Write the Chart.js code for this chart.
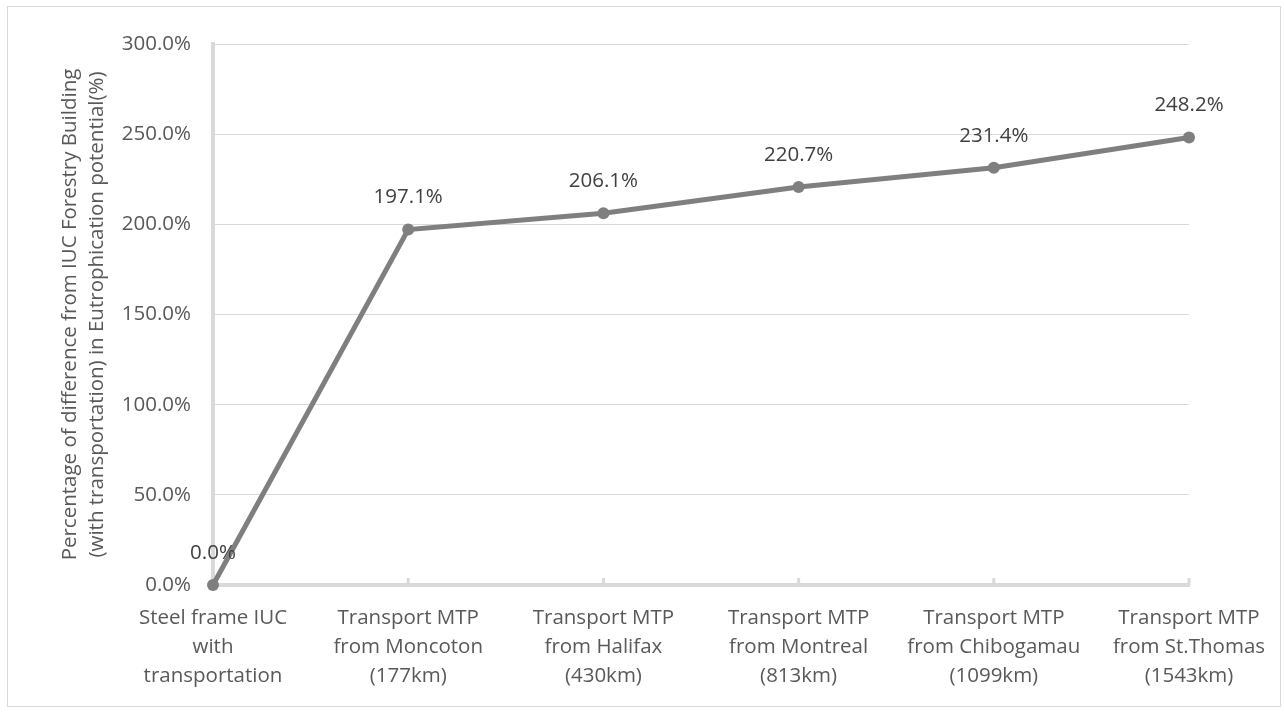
<!DOCTYPE html>
<html><head><meta charset="utf-8">
<script src="https://cdn.jsdelivr.net/npm/chart.js@4"></script>
<style>html,body{margin:0;padding:0;background:#fff;}#wrap{width:1284px;height:713px;position:relative;}</style>
</head><body><div id="wrap"><canvas id="c" width="1284" height="713"></canvas></div>
<script>
const categories = [
  ["Steel frame IUC", "with", "transportation"],
  ["Transport MTP", "from Moncoton", "(177km)"],
  ["Transport MTP", "from Halifax", "(430km)"],
  ["Transport MTP", "from Montreal", "(813km)"],
  ["Transport MTP", "from Chibogamau", "(1099km)"],
  ["Transport MTP", "from St.Thomas", "(1543km)"]
];
const values = [0.0, 197.1, 206.1, 220.7, 231.4, 248.2];
const yTitle = ["Percentage of difference from IUC Forestry Building", "(with transportation) in Eutrophication potential(%)"];
const yMin = 0, yMax = 300, yStep = 50;

const FONT = "'Open Sans', 'Noto Sans', sans-serif";
const FS = 20.5;
const fmt = v => v.toFixed(1) + '%';

const bgBorder = {
  id: 'bgBorder',
  beforeDraw(chart) {
    const c = chart.ctx;
    c.save();
    c.fillStyle = '#fff';
    c.fillRect(0, 0, chart.width, chart.height);
    c.strokeStyle = '#d9d9d9';
    c.lineWidth = 1;
    c.strokeRect(7.5, 6.5, 1273, 700);
    c.restore();
  }
};
const xTickMarks = {
  id: 'xTickMarks',
  beforeDatasetsDraw(chart) {
    const x = chart.scales.x, c = chart.ctx, b = chart.chartArea.bottom;
    c.save();
    c.strokeStyle = '#d9d9d9';
    c.lineWidth = 3;
    x.ticks.forEach((t, i) => {
      const px = x.getPixelForTick(i);
      c.beginPath(); c.moveTo(px, b - 7); c.lineTo(px, b); c.stroke();
    });
    c.restore();
  }
};
const dataLabels = {
  id: 'dataLabels',
  afterDatasetsDraw(chart) {
    const c = chart.ctx;
    const meta = chart.getDatasetMeta(0);
    c.save();
    c.font = FS + 'px ' + FONT;
    c.fillStyle = '#404040';
    c.textAlign = 'center';
    c.textBaseline = 'middle';
    meta.data.forEach((el, i) => {
      c.fillText(fmt(values[i]), el.x, el.y - 32);
    });
    c.restore();
  }
};

new Chart(document.getElementById('c'), {
  type: 'line',
  data: {
    labels: categories,
    datasets: [{
      data: values,
      borderColor: '#7f7f7f',
      backgroundColor: '#7f7f7f',
      borderWidth: 5,
      pointRadius: 6,
      pointHoverRadius: 6,
      pointBorderWidth: 0,
      tension: 0,
      clip: false
    }]
  },
  options: {
    responsive: false,
    animation: false,
    devicePixelRatio: 1,
    layout: { padding: { top: 44, right: 95, bottom: 0, left: 0 } },
    plugins: { legend: { display: false }, tooltip: { enabled: false } },
    scales: {
      x: {
        offset: false,
        grid: { display: false, drawTicks: false },
        border: { display: true, color: '#d9d9d9', width: 4 },
        ticks: {
          autoSkip: false, maxRotation: 0, minRotation: 0,
          color: '#595959', padding: 18.5,
          font: { family: FONT, size: FS, lineHeight: '29px' }
        },
        afterFit(s) { s.height = 713 - 585; }
      },
      y: {
        min: yMin, max: yMax,
        grid: { color: '#d9d9d9', lineWidth: 1, drawTicks: false },
        border: { display: true, color: '#d9d9d9', width: 4 },
        ticks: {
          stepSize: yStep, padding: 22, color: '#595959',
          font: { family: FONT, size: FS },
          callback: v => fmt(v)
        },
        title: {
          display: true, text: yTitle, color: '#595959',
          font: { family: FONT, size: FS, lineHeight: '27px' },
          padding: { top: 57, bottom: 0 }
        },
        afterFit(s) { s.width = 213; }
      }
    }
  },
  plugins: [bgBorder, xTickMarks, dataLabels]
});
</script></body></html>
